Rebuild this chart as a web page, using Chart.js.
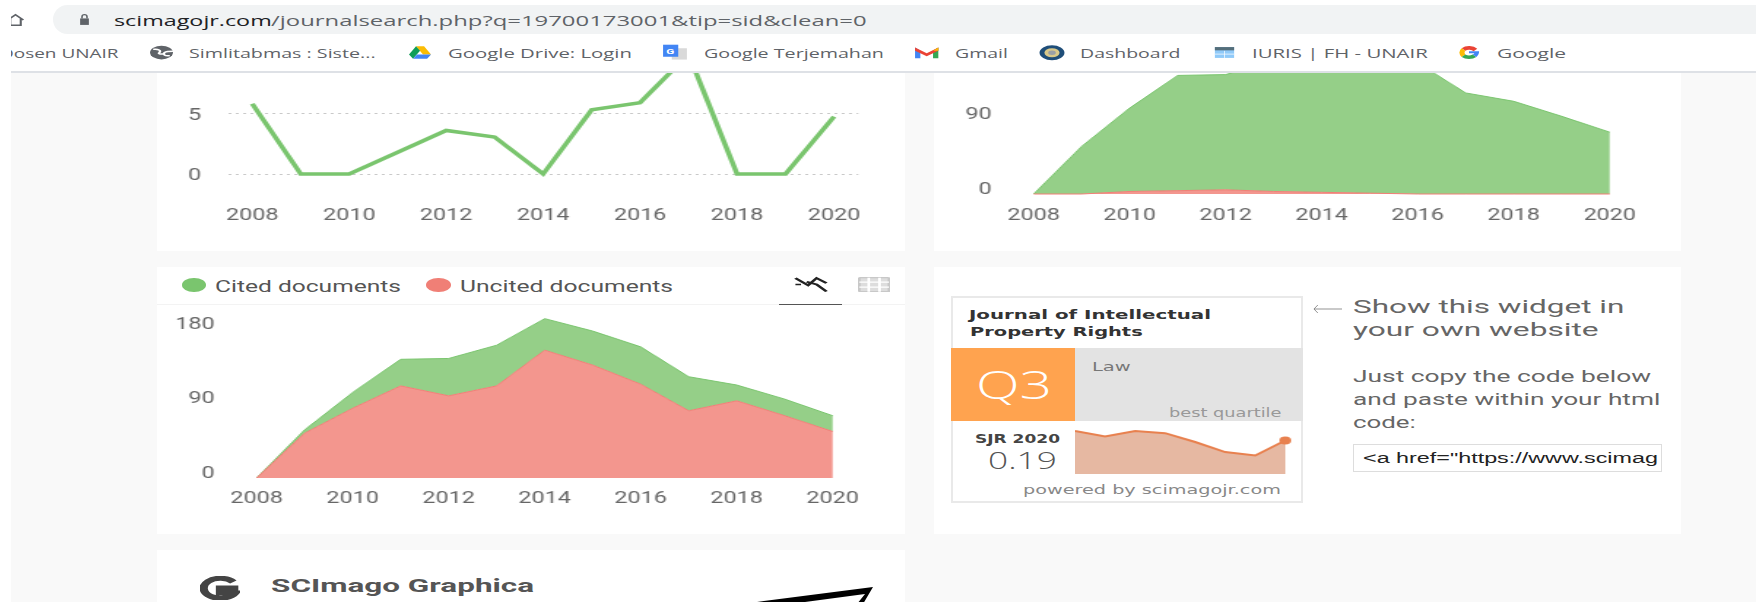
<!DOCTYPE html>
<html>
<head>
<meta charset="utf-8">
<title>Journal of Intellectual Property Rights</title>
<script src="https://cdn.jsdelivr.net/npm/chart.js@4"></script>
<style>
  html, body { margin: 0; padding: 0; width: 1756px; height: 602px; overflow: hidden; background: #f9f9f9; }
  body { position: relative; font-family: Roboto, sans-serif; }
  .box, .txt, canvas, svg.ic { position: absolute; }
  .txt { white-space: nowrap; transform-origin: 0 50%; line-height: 1.2; }
  canvas { transform-origin: 0 0; }
  #chrome { position: absolute; left: 0; top: 0; width: 1756px; height: 73px; z-index: 10; background: #fff; overflow: hidden; }
</style>
</head>
<body>
<div id="chrome"></div>
<script>
// values
const years = ['2008','2009','2010','2011','2012','2013','2014','2015','2016','2017','2018','2019','2020']
const yearTicks = ['2008','2010','2012','2014','2016','2018','2020']

// top left line chart (peak 2017 is cut by the browser bar)
const lineValues = [5.8, 0, 0, 1.8, 3.6, 3.05, 0, 5.3, 5.9, 9.9, 0, 0, 4.75]
const lineTicks = [0, 5]

// top right area chart
const citableDocs = [0, 57, 100, 138, 138, 157, 190, 176, 157, 121, 111, 93, 74]
const nonCitableDocs = [0, 0, 3, 4, 5, 3, 2, 1, 0, 0, 0, 0, 0]
const citableTicks = [0, 90]

// cited / uncited area chart
const citedDocs = [0, 4, 19, 32, 45, 49, 38, 41, 45, 41, 19, 20, 19]
const uncitedDocs = [0, 54, 84, 111, 99, 111, 154, 136, 113, 81, 93, 75, 56]
const citedTicks = [0, 90, 180]

// SJR widget
const sjrYears = ['2013','2014','2015','2016','2017','2018','2019','2020']
const sjrValues = [0.243, 0.213, 0.243, 0.231, 0.181, 0.124, 0.105, 0.19]

const SX = 1.46  // the screenshot is stretched sideways
const RIGHT_ROOM = 20  // canvas room right of the plot for the last year label
const GREEN = '#7ac56e', RED = '#f07f76'
const GREEN_FILL = '#95cf88', RED_FILL = '#f3968e'
const TICK_COLOR = '#666'
const chrome = document.getElementById('chrome')

function box(x1, y1, x2, y2, css, parent) {
  const d = document.createElement('div')
  d.className = 'box'
  d.style.cssText = `left:${x1}px;top:${y1}px;width:${x2 - x1}px;height:${y2 - y1}px;${css || ''}`
  ;(parent || document.body).appendChild(d)
  return d
}

// text squeezed or stretched so that it spans x1..x2 like in the screenshot
function label(str, x1, x2, cy, size, color, css, parent) {
  const s = document.createElement('div')
  s.className = 'txt'
  s.textContent = str
  s.style.cssText = `left:${x1}px;font-size:${size}px;color:${color};${css || ''}`
  ;(parent || document.body).appendChild(s)
  s.style.top = (cy - s.offsetHeight / 2) + 'px'
  s.style.transform = `scaleX(${(x2 - x1) / s.offsetWidth})`
  return s
}

function icon(inner, x1, y1, x2, y2, parent, vb) {
  const d = document.createElement('div')
  d.style.cssText = `position:absolute;left:${x1}px;top:${y1}px;width:${x2 - x1}px;height:${y2 - y1}px`
  d.innerHTML = `<svg width="100%" height="100%" viewBox="${vb || '0 0 24 24'}" preserveAspectRatio="none" style="display:block">${inner}</svg>`
  ;(parent || document.body).appendChild(d)
}

function addCanvas(x, y, w, h) {
  const c = document.createElement('canvas')
  c.width = Math.round(w / SX)
  c.height = h
  c.style.left = x + 'px'
  c.style.top = y + 'px'
  c.style.transform = `scaleX(${SX})`
  document.body.appendChild(c)
  return c
}

// chart.js reserves room for tick labels on the sides, the axes here have fixed sizes
function noPadding(s) {
  s.paddingLeft = s.paddingRight = s.paddingTop = s.paddingBottom = 0
}

const baseOptions = {
  responsive: false, animation: false, devicePixelRatio: 1,
  layout: { autoPadding: false, padding: { right: RIGHT_ROOM / SX } },
  plugins: { legend: { display: false }, tooltip: { enabled: false } }
}

// x axis shared by the three big charts, 13 slots so the points sit half a slot in
function yearAxis(padding, height) {
  return {
    type: 'category', offset: true, stacked: true,
    grid: { display: false, drawTicks: false }, border: { display: false },
    afterFit: s => { s.height = height; noPadding(s) },
    ticks: {
      autoSkip: false, maxRotation: 0, minRotation: 0, padding: padding,
      color: TICK_COLOR, font: { family: 'Roboto', size: 16 },
      callback: (v, i) => yearTicks.includes(years[i]) ? years[i] : ''
    }
  }
}

// the number labels sit a little off their true height in the screenshot, so they
// get their own axis, shifted against the data axis
function labelAxis(ticks, min, max, width, padding) {
  return {
    position: 'left', min: min, max: max,
    afterFit: s => { s.width = width; noPadding(s) },
    afterBuildTicks: s => { s.ticks = ticks.map(v => ({ value: v })) },
    border: { display: false },
    grid: { display: false, drawTicks: false },
    ticks: { padding: padding, color: TICK_COLOR, font: { family: 'Roboto', size: 16 }, callback: v => String(v) }
  }
}

function stackedArea(canvas, lower, upper, ticks, axisWidth, pad, xPad, labelShift) {
  const base = { pointRadius: 0, tension: 0, borderWidth: 1, clip: false }
  return new Chart(canvas, {
    type: 'line',
    data: {
      labels: years,
      datasets: [
        { ...base, label: 'lower', data: lower, borderColor: RED, backgroundColor: RED_FILL, fill: 'origin', yAxisID: 'y' },
        { ...base, label: 'upper', data: upper, borderColor: GREEN, backgroundColor: GREEN_FILL, fill: '-1', yAxisID: 'y' }
      ]
    },
    options: {
      ...baseOptions,
      scales: {
        x: yearAxis(xPad, 40),
        y: { display: false, stacked: true, min: 0, max: 200 },
        yLabels: labelAxis(ticks, -labelShift, 200 - labelShift, axisWidth, pad)
      }
    }
  })
}

// ---- browser bar ----
box(53, 5, 1790, 34, 'background:#f1f3f4;border-radius:15px', chrome)
icon('<path d="M3 12 L12 3 L21 12 M6 10 V21 H18 V10" fill="none" stroke="#5f6368" stroke-width="2.4"/>', 5, 13, 26, 27, chrome)
box(0, 0, 11, 34, 'background:#fff', chrome)
icon('<path d="M5 10 H19 V22 H5 Z" fill="#5f6368"/><path d="M8 10 V7 A4 4 0 0 1 16 7 V10" fill="none" stroke="#5f6368" stroke-width="2.5"/>', 77, 13, 92, 26, chrome)
label('scimagojr.com', 114, 271, 20, 15, '#202124', "font-family:'Open Sans'", chrome)
label('/journalsearch.php?q=19700173001&tip=sid&clean=0', 271, 866, 20, 15, '#5f6368', "font-family:'Open Sans'", chrome)

const bmFont = "font-family:'Open Sans'"
label('Dosen UNAIR', 0, 118, 52.7, 13.5, '#5f6368', bmFont, chrome)
box(0, 34, 11, 72, 'background:#fff', chrome)
icon('<circle cx="12" cy="12" r="11" fill="#5f6368"/><path d="M4 7 C9 6 12 9 10 12 C8 14 11 15 14 14 M20 17 C15 18 13 15 15 12 C17 10 20 10 23 10" fill="none" stroke="#fff" stroke-width="2.2"/>', 149, 45, 174, 60, chrome)
label('Simlitabmas : Siste...', 189.4, 376, 52.7, 13.5, '#5f6368', bmFont, chrome)
icon('<path d="M8 2 H16 L23 15 H15 Z" fill="#fbbc04"/><path d="M8 2 L1 15 L5 22 L12 9 Z" fill="#0f9d58"/><path d="M5 22 H19 L23 15 H9 Z" fill="#4285f4"/>', 407.6, 45, 431.7, 60, chrome)
label('Google Drive: Login', 447.8, 631.5, 52.7, 13.5, '#5f6368', bmFont, chrome)
icon('<rect x="9" y="6" width="14" height="16" fill="#d9d9d9"/><rect x="1" y="1" width="14" height="17" fill="#4285f4"/><text x="4" y="14" font-size="11" fill="#fff" font-family="Roboto" font-weight="700">G</text>', 662, 44, 688, 61, chrome)
label('Google Terjemahan', 703.8, 883, 52.7, 13.5, '#5f6368', bmFont, chrome)
icon('<path d="M1 4 V21 H6 V9 Z" fill="#4285f4"/><path d="M23 4 V21 H18 V9 Z" fill="#34a853"/><path d="M1 4 L12 13 L23 4 V9 L12 18 L1 9 Z" fill="#ea4335"/><path d="M18 9 L23 4 V9 Z" fill="#fbbc04"/>', 913.6, 45, 939, 60, chrome)
label('Gmail', 954.6, 1008, 52.7, 13.5, '#5f6368', bmFont, chrome)
icon('<circle cx="12" cy="12" r="11.5" fill="#1f4e79"/><circle cx="12" cy="12" r="7" fill="#d9c98a"/><circle cx="12" cy="12" r="3.5" fill="#9aa0a6"/>', 1039, 45, 1065, 60.5, chrome)
label('Dashboard', 1080, 1181, 52.7, 13.5, '#5f6368', bmFont, chrome)
icon('<rect x="1" y="2" width="22" height="20" fill="#90caf9"/><rect x="1" y="2" width="22" height="6" fill="#546e7a"/><path d="M12 9 V22 M1 15 H23" stroke="#fff" stroke-width="1"/>', 1214, 46, 1235, 59, chrome)
label('IURIS | FH - UNAIR', 1252, 1427, 52.7, 13.5, '#5f6368', bmFont, chrome)
icon('<path d="M21 6 A11 11 0 0 0 4 5 L8 9 A6 6 0 0 1 17 10 Z" fill="#ea4335"/><path d="M4 5 A11 11 0 0 0 4 19 L8 15 A6 6 0 0 1 8 9 Z" fill="#fbbc04"/><path d="M4 19 A11 11 0 0 0 20 19 L16 15 A6 6 0 0 1 8 15 Z" fill="#34a853"/><path d="M12 10 H23 C23 14 22 17 20 19 L16 15 C17 14 17.500 14 18 13 H12 Z" fill="#4285f4"/>', 1458, 45, 1480, 60, chrome)
label('Google', 1496.6, 1565, 52.7, 13.5, '#5f6368', bmFont, chrome)
box(11, 71, 1756, 73, 'background:#dee1e6', chrome)

// ---- page ----
box(0, 73, 11, 602, 'background:#fff')
box(157, 60, 905, 250.7, 'background:#fff')
box(934, 60, 1681, 250.7, 'background:#fff')
box(157, 267.3, 905, 534, 'background:#fff')
box(934, 267.3, 1681, 534, 'background:#fff')
box(157, 550, 905, 610, 'background:#fff')

// top left line chart, dotted grid stays on the data axis
new Chart(addCanvas(157, 52.7, 701 + RIGHT_ROOM, 181), {
  type: 'line',
  data: { labels: years, datasets: [{ data: lineValues, borderColor: GREEN, borderWidth: 3.5, pointRadius: 0, tension: 0, fill: false, clip: false, yAxisID: 'y' }] },
  options: {
    ...baseOptions,
    scales: {
      x: yearAxis(32, 60),
      y: {
        position: 'left', min: 0, max: 10,
        afterFit: s => { s.width = 0; noPadding(s) },
        afterBuildTicks: s => { s.ticks = lineTicks.map(v => ({ value: v })) },
        border: { display: false, dash: [2, 3] },
        grid: { color: '#c9c9c9', drawTicks: false, lineWidth: 1 },
        ticks: { display: false }
      },
      yLabels: labelAxis(lineTicks, 0.17, 10.17, 71 / SX, 18.5)
    }
  }
})

// top right area chart, lower series first because it stacks from the bottom
stackedArea(addCanvas(934, 27.3, 700 + RIGHT_ROOM, 207), nonCitableDocs, citableDocs, citableTicks, 75.7 / SX, 12.3, 12, 4.2)

// cited / uncited
stackedArea(addCanvas(157, 312.3, 700.5 + RIGHT_ROOM, 206), uncitedDocs, citedDocs, citedTicks, 75.6 / SX, 12.3, 11.5, 4.6)

// legend and tabs of the third card
box(157, 304, 905, 305, 'background:#f3f3f3')
box(181.5, 277.7, 205.7, 292.3, `background:${GREEN};border-radius:50%`)
label('Cited documents', 215.4, 401, 286.7, 16, '#555')
box(426.3, 277.7, 451.5, 292.3, `background:${RED};border-radius:50%`)
label('Uncited documents', 460, 672.5, 286.7, 16, '#555')
box(779, 303.6, 842, 304.8, 'background:#555')
icon('<path d="M1 3 L10 13 L16 3 L23 10 M1 12 H5 M9 8 L16 12 L23 22" fill="none" stroke="#222" stroke-width="2.4"/>', 793.7, 276, 827.6, 293)
icon('<rect x="1" y="1" width="22" height="22" rx="1" fill="#ddd" stroke="#c8c8c8" stroke-width="2"/><path d="M8 1 V23 M16 1 V23 M1 8 H23 M1 16 H23" stroke="#fff" stroke-width="2"/>', 857.7, 276.7, 890, 292)

// SCImago Graphica teaser
icon('<path d="M20 6 A10 10 0 1 0 21 17 L12 17 V12 H23" fill="none" stroke="#444" stroke-width="5"/>', 200, 576, 240, 600)
label('SCImago Graphica', 271, 534.4, 586, 19, '#555', 'font-weight:700')
icon('<path d="M757 602 L873 587 L863 604 L857 604 L865 594 L790 604 Z" fill="#000"/>', 750, 580, 880, 602, null, '750 580 130 22')

// SJR widget
box(951.3, 296, 1303, 503.3, 'background:#fff;border:2px solid #e9e9e9;box-sizing:border-box')
const wFont = "font-family:'DejaVu Sans'"
label('Journal of Intellectual', 968.8, 1211, 315, 13, '#333', wFont + ';font-weight:700')
label('Property Rights', 969.7, 1143, 332.3, 13, '#333', wFont + ';font-weight:700')
box(951.3, 348.3, 1075, 421, 'background:#ffa34f')
box(1075, 348.3, 1303, 421, 'background:#e3e3e3')
label('Q3', 976, 1052, 384, 39, '#fff', "font-family:'Open Sans';font-weight:300")
label('Law', 1092, 1131, 366, 12.5, '#777', wFont)
label('best quartile', 1169, 1281.4, 413, 12, '#999', wFont)
label('SJR 2020', 975, 1059.4, 438.3, 12.5, '#444', wFont + ';font-weight:700')
label('0.19', 988, 1057, 461, 23, '#555', "font-family:'Open Sans';font-weight:300")
label('powered by scimagojr.com', 1023, 1281.4, 489.3, 12.5, '#888', wFont)

new Chart(addCanvas(1074.5, 420.7, 221, 56), {
  type: 'line',
  data: {
    labels: sjrYears,
    datasets: [{
      data: sjrValues, borderColor: '#e8814f', borderWidth: 2, backgroundColor: '#e6b8a2', fill: 'origin', tension: 0, clip: false,
      pointRadius: sjrValues.map((v, i) => i == sjrValues.length - 1 ? 4 : 0),
      pointBackgroundColor: '#e8814f', pointBorderWidth: 0
    }]
  },
  options: {
    ...baseOptions,
    layout: { autoPadding: false, padding: { right: 7, bottom: 3 } },
    scales: { x: { display: false }, y: { display: false, min: 0, max: 0.3 } }
  }
})

// embed text next to the widget
icon('<path d="M30 5 H1 M5 1 L1 5 L5 9" fill="none" stroke="#777" stroke-width="0.8"/>', 1313, 304, 1342, 314, null, '0 0 30 10')
const side = '#666'
label('Show this widget in', 1353, 1624.6, 307.7, 19, side)
label('your own website', 1353, 1598, 330.7, 19, side)
label('Just copy the code below', 1353, 1651, 376, 16, side)
label('and paste within your html', 1353, 1661, 399, 16, side)
label('code:', 1353, 1416, 422.3, 16, side)
const inputBox = box(1353, 444, 1662.4, 471.7, 'background:#fff;border:1px solid #ddd;box-sizing:border-box;overflow:hidden')
label('<a href="https://www.scimag', 9, 304, 13, 14, '#222', "font-family:'Liberation Sans'", inputBox)
</script>
</body>
</html>
